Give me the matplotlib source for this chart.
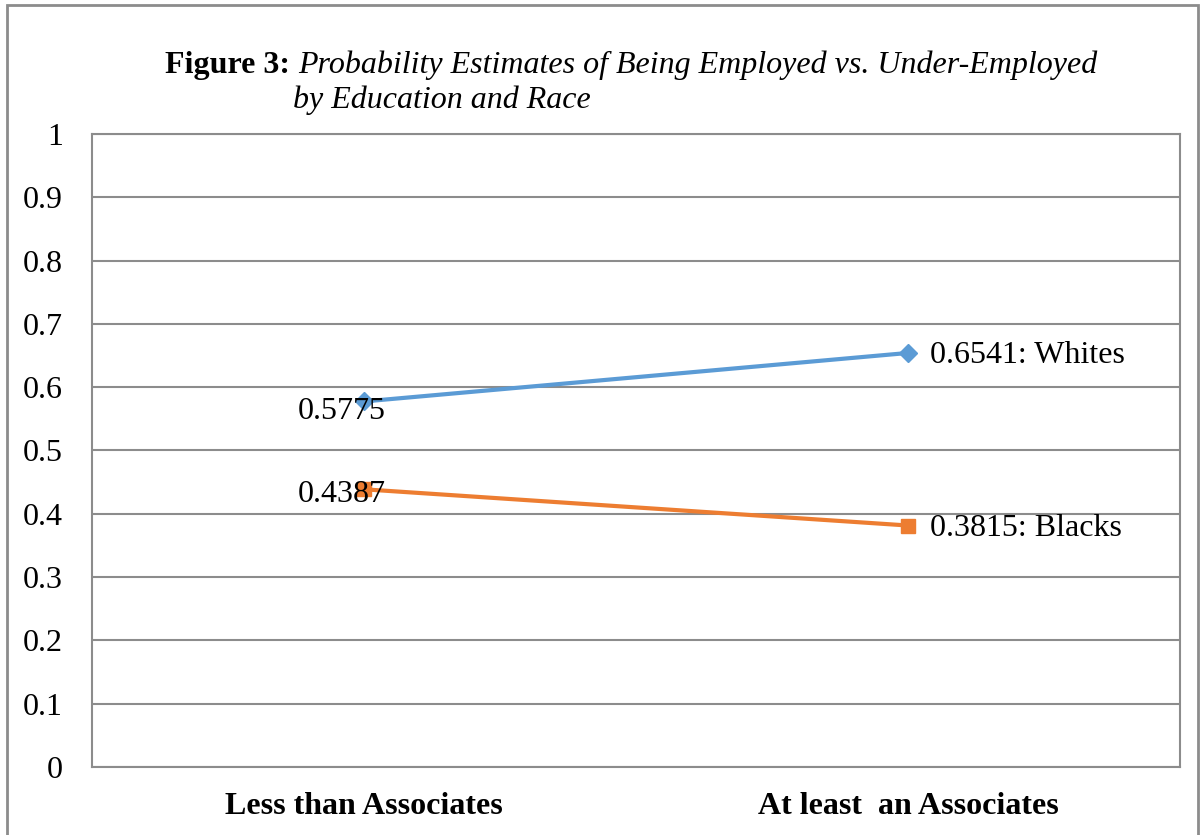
import matplotlib.pyplot as plt
from matplotlib.patches import Rectangle

categories = ['Less than Associates', 'At least  an Associates']
whites = [0.5775, 0.6541]
blacks = [0.4387, 0.3815]
yticks = [0, 0.1, 0.2, 0.3, 0.4, 0.5, 0.6, 0.7, 0.8, 0.9, 1]
ytick_labels = ['0', '0.1', '0.2', '0.3', '0.4', '0.5', '0.6', '0.7', '0.8', '0.9', '1']

plt.rcParams['font.family'] = ['Liberation Serif', 'DejaVu Serif']

W, H = 1202, 835
fs = 23
fig = plt.figure(figsize=(W / 100, H / 100), dpi=100)
# axes area in pixels: left 92, right 1180, top 134, bottom 767
ax = fig.add_axes([92 / W, 1 - 767 / H, (1180 - 92) / W, (767 - 134) / H])

grid_col = '#8c8c8c'
blue = '#5B9BD5'
orange = '#ED7D31'

x = list(range(len(categories)))
ax.plot(x, whites, color=blue, lw=3, marker='D', ms=9, zorder=3)
ax.plot(x, blacks, color=orange, lw=3, marker='s', ms=10, zorder=3)

# data labels
ax.annotate(f'{whites[0]:.4f}', (x[0], whites[0]), xytext=(22, -10), textcoords='offset pixels',
            ha='right', va='center', fontsize=fs)
ax.annotate(f'{blacks[0]:.4f}', (x[0], blacks[0]), xytext=(22, -5), textcoords='offset pixels',
            ha='right', va='center', fontsize=fs)
ax.annotate(f'{whites[1]:.4f}: Whites', (x[1], whites[1]), xytext=(22, -3), textcoords='offset pixels',
            ha='left', va='center', fontsize=fs)
ax.annotate(f'{blacks[1]:.4f}: Blacks', (x[1], blacks[1]), xytext=(22, -3), textcoords='offset pixels',
            ha='left', va='center', fontsize=fs)

ax.set_xlim(-0.5, 1.5)
ax.set_ylim(0, 1)
ax.set_yticks(yticks)
ax.set_yticklabels(ytick_labels, fontsize=fs)
ax.set_xticks(x)
ax.set_xticklabels(categories, fontsize=fs, fontweight='bold')
ax.tick_params(axis='both', length=0)
ax.tick_params(axis='y', pad=21)
ax.tick_params(axis='x', pad=18)
ax.grid(axis='y', color=grid_col, lw=1.5)
ax.set_axisbelow(True)
for s in ax.spines.values():
    s.set_color(grid_col)
    s.set_linewidth(1.5)

# title: bold part then italic part
t1 = fig.text(165 / W, 1 - 73 / H, 'Figure 3:', fontsize=fs, fontweight='bold', va='baseline')
fig.canvas.draw()
bb = t1.get_window_extent()
fig.text((bb.x1 + 8) / W, 1 - 73 / H, 'Probability Estimates of Being Employed vs. Under-Employed',
         fontsize=fs, style='italic', va='baseline')
fig.text(293 / W, 1 - 108 / H, 'by Education and Race', fontsize=fs, style='italic', va='baseline')

# outer chart border
fig.patches.append(Rectangle((7 / W, -0.05), (1198 - 7) / W, 1 - 5 / H + 0.05,
                             transform=fig.transFigure, fill=False, ec='#8c8c8c', lw=2))

fig.savefig('out.png', dpi=100)
